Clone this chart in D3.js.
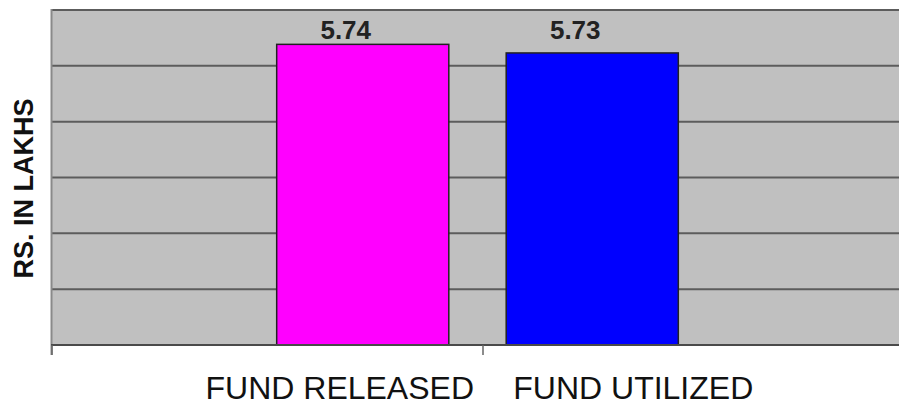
<!DOCTYPE html>
<html>
<head>
<meta charset="utf-8">
<script src="https://cdn.jsdelivr.net/npm/d3@7"></script>
<style>
  body { margin: 0; background: #fff; }
  svg { display: block; }
  text { font-family: "Liberation Sans", Arial, sans-serif; }
</style>
</head>
<body>
<svg id="chart"></svg>
<script>
const categories = ['FUND RELEASED', 'FUND UTILIZED'];
const values = [5.74, 5.73];
const valueLabels = ['5.74', '5.73'];
const barColors = ['#ff00ff', '#0000ff'];
const yTitle = 'RS. IN LAKHS';
// the value axis of the original does not start at zero
const yDomain = [5.39, 5.78];
const gridCount = 6;

const width = 899;
const height = 406;
const plot = { left: 51, right: 899, top: 10, bottom: 345 };

const svg = d3.select('#chart').attr('width', width).attr('height', height);

const y = d3.scaleLinear().domain(yDomain).range([plot.bottom, plot.top]);
const x = d3.scaleBand()
  .domain(categories)
  .range([248, 707])
  .paddingInner(0.25)
  .paddingOuter(0.125);
// category divisions for the axis ticks
const xAxisScale = d3.scaleBand().domain(categories).range([plot.left, 913]);

// plot background
svg.append('rect')
  .attr('x', plot.left)
  .attr('y', plot.top)
  .attr('width', plot.right - plot.left)
  .attr('height', plot.bottom - plot.top)
  .attr('fill', '#c0c0c0');

// gridlines
const step = (yDomain[1] - yDomain[0]) / gridCount;
const gridValues = d3.range(1, gridCount + 1).map(i => yDomain[0] + i * step);
svg.append('g')
  .selectAll('line')
  .data(gridValues)
  .join('line')
  .attr('x1', plot.left)
  .attr('x2', plot.right)
  .attr('y1', d => y(d))
  .attr('y2', d => y(d))
  .attr('stroke', '#5c5c5c')
  .attr('stroke-width', 2);

// left axis line
svg.append('line')
  .attr('x1', plot.left + 0.5)
  .attr('x2', plot.left + 0.5)
  .attr('y1', plot.top - 1)
  .attr('y2', plot.bottom + 10)
  .attr('stroke', '#8a8a8a')
  .attr('stroke-width', 2);

// bars
svg.append('g')
  .selectAll('rect')
  .data(categories)
  .join('rect')
  .attr('x', d => x(d))
  .attr('y', (d, i) => y(values[i]))
  .attr('width', x.bandwidth())
  .attr('height', (d, i) => plot.bottom - y(values[i]))
  .attr('fill', (d, i) => barColors[i])
  .attr('stroke', '#222')
  .attr('stroke-width', 1.5);

// bottom axis
svg.append('line')
  .attr('x1', plot.left)
  .attr('x2', plot.right)
  .attr('y1', plot.bottom)
  .attr('y2', plot.bottom)
  .attr('stroke', '#4a4a4a')
  .attr('stroke-width', 2);

svg.append('g')
  .selectAll('line')
  .data(categories)
  .join('line')
  .attr('x1', d => xAxisScale(d) + 1)
  .attr('x2', d => xAxisScale(d) + 1)
  .attr('y1', plot.bottom)
  .attr('y2', plot.bottom + 10)
  .attr('stroke', '#666')
  .attr('stroke-width', 1.5);

// value labels
const labelY = y(d3.max(values)) - 5;
svg.append('g')
  .selectAll('text')
  .data(categories)
  .join('text')
  .attr('x', d => x(d) + x.bandwidth() / 2 - 17)
  .attr('y', labelY)
  .attr('text-anchor', 'middle')
  .attr('font-size', 26)
  .attr('font-weight', 'bold')
  .attr('fill', '#222')
  .text((d, i) => valueLabels[i]);

// category labels
const labelShift = [-23, 41];
svg.append('g')
  .selectAll('text')
  .data(categories)
  .join('text')
  .attr('x', (d, i) => x(d) + x.bandwidth() / 2 + labelShift[i])
  .attr('y', 399)
  .attr('text-anchor', 'middle')
  .attr('font-size', 32)
  .attr('fill', '#111')
  .text(d => d);

// y axis title
svg.append('text')
  .attr('transform', `translate(33,${(plot.top + plot.bottom) / 2 + 11}) rotate(-90)`)
  .attr('text-anchor', 'middle')
  .attr('font-size', 27)
  .attr('font-weight', 'bold')
  .attr('fill', '#111')
  .text(yTitle);
</script>
</body>
</html>
